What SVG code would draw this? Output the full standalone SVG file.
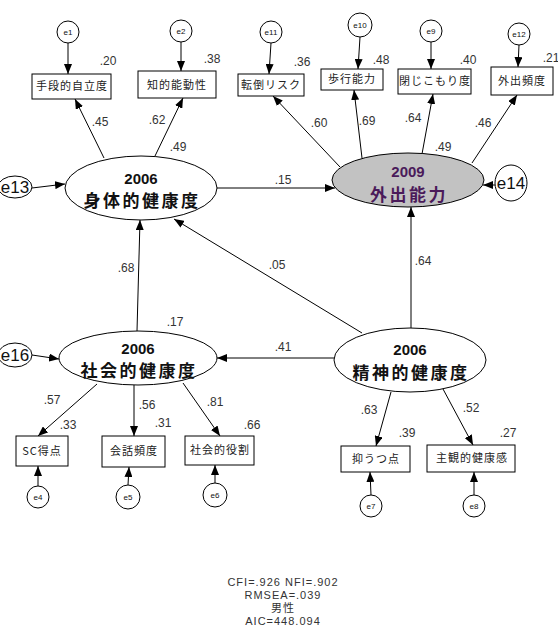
<svg xmlns="http://www.w3.org/2000/svg" width="558" height="633" viewBox="0 0 558 633">
<defs>
<marker id="ah" markerUnits="userSpaceOnUse" markerWidth="10" markerHeight="8" refX="10" refY="4" orient="auto">
<path d="M0,0 L10,4 L0,8 z" fill="#000"/>
</marker>
</defs>
<style>
.bg{fill:#fff}
.box{fill:#fff;stroke:#000;stroke-width:1}
.lat{fill:#fff;stroke:#000;stroke-width:1}
.err{fill:#fff;stroke:#000;stroke-width:1}
.c{stroke:#000;stroke-width:1;fill:none;marker-end:url(#ah)}
.bt{font-family:"Noto Sans CJK JP","Liberation Sans",sans-serif;font-size:11px;fill:#222;text-anchor:middle;letter-spacing:1px}
.lt{font-family:"Liberation Sans","Noto Sans CJK JP",sans-serif;font-size:15px;font-weight:bold;fill:#111;text-anchor:middle}
.lj{font-family:"Noto Sans CJK JP",sans-serif;font-size:17px;font-weight:bold;fill:#111;text-anchor:middle;letter-spacing:2.5px}
.n{font-family:"Liberation Sans",sans-serif;font-size:12px;fill:#333;text-anchor:middle}
.es{font-family:"Liberation Sans",sans-serif;font-size:8px;fill:#111;text-anchor:middle}
.eb{font-family:"Liberation Sans",sans-serif;font-size:17px;fill:#111;text-anchor:middle}
.fit{font-family:"Liberation Sans","Noto Sans CJK JP",sans-serif;font-size:11px;fill:#333;text-anchor:middle;letter-spacing:1px}
.pur{fill:#4a1a5a}
</style>
<rect class="bg" x="0" y="0" width="558" height="633"/>

<g id="connectors">
<line class="c" x1="68" y1="43" x2="68" y2="74"/>
<line class="c" x1="181" y1="42" x2="181" y2="71"/>
<line class="c" x1="271" y1="43" x2="269" y2="74"/>
<line class="c" x1="360" y1="37" x2="358" y2="69"/>
<line class="c" x1="431" y1="42" x2="431" y2="69"/>
<line class="c" x1="519" y1="45" x2="518" y2="67"/>
<line class="c" x1="38" y1="486" x2="38" y2="466"/>
<line class="c" x1="128" y1="485" x2="129" y2="467"/>
<line class="c" x1="215" y1="483" x2="215" y2="465"/>
<line class="c" x1="371" y1="495" x2="370" y2="472"/>
<line class="c" x1="474" y1="495" x2="474" y2="472"/>
<line class="c" x1="104" y1="158" x2="75" y2="99"/>
<line class="c" x1="155" y1="156" x2="183" y2="98"/>
<line class="c" x1="340" y1="167" x2="273" y2="96"/>
<line class="c" x1="362" y1="158" x2="354" y2="90"/>
<line class="c" x1="422" y1="154" x2="433" y2="94"/>
<line class="c" x1="472" y1="163" x2="517" y2="95"/>
<line class="c" x1="97" y1="384" x2="38" y2="436"/>
<line class="c" x1="134" y1="385" x2="134" y2="436"/>
<line class="c" x1="183" y1="383" x2="220" y2="436"/>
<line class="c" x1="391" y1="392" x2="376" y2="446"/>
<line class="c" x1="443" y1="389" x2="473" y2="445"/>
<line class="c" x1="217" y1="188" x2="335" y2="188"/>
<line class="c" x1="411" y1="328" x2="411" y2="207"/>
<line class="c" x1="362" y1="333" x2="174" y2="219"/>
<line class="c" x1="334" y1="358" x2="217" y2="358"/>
<line class="c" x1="137" y1="331" x2="140" y2="220"/>
<line class="c" x1="32" y1="188" x2="65" y2="184"/>
<line class="c" x1="495" y1="185" x2="483" y2="185"/>
<line class="c" x1="32" y1="355" x2="59" y2="359"/>
</g>

<g id="e1"><circle class="err" cx="68" cy="32" r="11"/><text class="es" x="68" y="35">e1</text></g>
<g id="e2"><circle class="err" cx="181" cy="31" r="11"/><text class="es" x="181" y="34">e2</text></g>
<g id="e11"><circle class="err" cx="271" cy="32" r="11"/><text class="es" x="271" y="35">e11</text></g>
<g id="e10"><circle class="err" cx="360" cy="25" r="12"/><text class="es" x="360" y="28">e10</text></g>
<g id="e9"><circle class="err" cx="431" cy="31" r="11"/><text class="es" x="431" y="34">e9</text></g>
<g id="e12"><circle class="err" cx="519" cy="34" r="11"/><text class="es" x="519" y="37">e12</text></g>
<g id="e4"><circle class="err" cx="38" cy="497" r="11"/><text class="es" x="38" y="500">e4</text></g>
<g id="e5"><circle class="err" cx="128" cy="497" r="12"/><text class="es" x="128" y="500">e5</text></g>
<g id="e6"><circle class="err" cx="215" cy="495" r="12"/><text class="es" x="215" y="498">e6</text></g>
<g id="e7"><circle class="err" cx="371" cy="506" r="11"/><text class="es" x="371" y="509">e7</text></g>
<g id="e8"><circle class="err" cx="474" cy="506" r="11"/><text class="es" x="474" y="509">e8</text></g>
<g id="e13"><ellipse class="err" cx="15" cy="187" rx="17" ry="11"/><text class="eb" x="15" y="193">e13</text></g>
<g id="e14"><ellipse class="err" cx="511" cy="183" rx="16" ry="18"/><text class="eb" x="511" y="189">e14</text></g>
<g id="e16"><ellipse class="err" cx="15" cy="355" rx="17" ry="12"/><text class="eb" x="15" y="361">e16</text></g>

<g id="box1"><rect class="box" x="32" y="74" width="79" height="25"/><text class="bt" x="72" y="90">手段的自立度</text></g>
<g id="box2"><rect class="box" x="138" y="71" width="78" height="27"/><text class="bt" x="177" y="89">知的能動性</text></g>
<g id="box11"><rect class="box" x="238" y="74" width="66" height="22"/><text class="bt" x="271" y="89">転倒リスク</text></g>
<g id="box10"><rect class="box" x="321" y="69" width="62" height="21"/><text class="bt" x="352" y="83">歩行能力</text></g>
<g id="box9"><rect class="box" x="398" y="69" width="73" height="25"/><text class="bt" x="435" y="85">閉じこもり度</text></g>
<g id="box12"><rect class="box" x="491" y="67" width="62" height="28"/><text class="bt" x="522" y="85">外出頻度</text></g>
<g id="box4"><rect class="box" x="16" y="436" width="52" height="30"/><text class="bt" x="42" y="455">SC得点</text></g>
<g id="box5"><rect class="box" x="102" y="436" width="63" height="31"/><text class="bt" x="134" y="455">会話頻度</text></g>
<g id="box6"><rect class="box" x="185" y="436" width="69" height="29"/><text class="bt" x="220" y="454">社会的役割</text></g>
<g id="box7"><rect class="box" x="341" y="446" width="69" height="26"/><text class="bt" x="376" y="463">抑うつ点</text></g>
<g id="box8"><rect class="box" x="427" y="445" width="88" height="27"/><text class="bt" x="472" y="462">主観的健康感</text></g>

<g id="physical"><ellipse class="lat" cx="141" cy="188" rx="76" ry="32"/><text class="lt" x="141" y="184">2006</text><text class="lj" x="142" y="207">身体的健康度</text></g>
<g id="outing"><ellipse cx="408" cy="180" rx="76" ry="27" fill="#c2c2c2" stroke="#000"/><text class="lt pur" x="408" y="177">2009</text><text class="lj pur" x="409" y="201">外出能力</text></g>
<g id="social"><ellipse class="lat" cx="138" cy="358" rx="79" ry="27"/><text class="lt" x="138" y="354">2006</text><text class="lj" x="139" y="377">社会的健康度</text></g>
<g id="mental"><ellipse class="lat" cx="410" cy="360" rx="76" ry="32"/><text class="lt" x="410" y="355">2006</text><text class="lj" x="411" y="379">精神的健康度</text></g>

<g id="labels">
<text class="n" x="108" y="65">.20</text>
<text class="n" x="212" y="63">.38</text>
<text class="n" x="100" y="126">.45</text>
<text class="n" x="157" y="124">.62</text>
<text class="n" x="178" y="151">.49</text>
<text class="n" x="302" y="66">.36</text>
<text class="n" x="381" y="64">.48</text>
<text class="n" x="468" y="64">.40</text>
<text class="n" x="551" y="62">.21</text>
<text class="n" x="319" y="127">.60</text>
<text class="n" x="367" y="125">.69</text>
<text class="n" x="413" y="122">.64</text>
<text class="n" x="483" y="127">.46</text>
<text class="n" x="443" y="151">.49</text>
<text class="n" x="283" y="184">.15</text>
<text class="n" x="277" y="269">.05</text>
<text class="n" x="126" y="272">.68</text>
<text class="n" x="175" y="326">.17</text>
<text class="n" x="423" y="265">.64</text>
<text class="n" x="283" y="351">.41</text>
<text class="n" x="52" y="404">.57</text>
<text class="n" x="68" y="429">.33</text>
<text class="n" x="147" y="409">.56</text>
<text class="n" x="163" y="427">.31</text>
<text class="n" x="215" y="406">.81</text>
<text class="n" x="252" y="429">.66</text>
<text class="n" x="369" y="414">.63</text>
<text class="n" x="407" y="437">.39</text>
<text class="n" x="471" y="412">.52</text>
<text class="n" x="508" y="437">.27</text>
</g>

<g id="fit">
<text class="fit" x="283" y="586">CFI=.926 NFI=.902</text>
<text class="fit" x="283" y="599">RMSEA=.039</text>
<text class="fit" x="283" y="612">男性</text>
<text class="fit" x="283" y="625">AIC=448.094</text>
</g>
</svg>
